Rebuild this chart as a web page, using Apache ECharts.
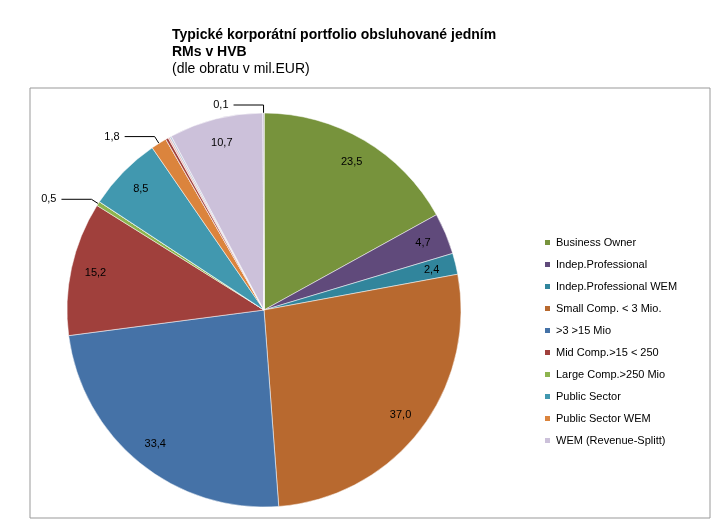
<!DOCTYPE html><html><head><meta charset="utf-8"><script src="https://cdn.jsdelivr.net/npm/echarts@6/dist/echarts.min.js"></script></head><body style="margin:0;background:#fff"><div id="c" style="width:726px;height:527px"></div><script>
const names=['Business Owner','Indep.Professional','Indep.Professional WEM','Small Comp. < 3 Mio.','>3 >15 Mio','Mid Comp.>15 < 250','Large Comp.>250 Mio','x1','Public Sector','Public Sector WEM','x2','x3','x4','x5','WEM (Revenue-Splitt)','x6','x7','x8'];
const values=[23.5,4.7,2.4,37.0,33.4,15.2,0.5,0.0,8.5,1.8,0.0,0.3,0.2,0.2,10.7,0.0,0.1,0.0];
const colors=['#77933C','#604A7B','#31859C','#B8692F','#4572A7','#A0403C','#8DB44F','#8DB44F','#4198AF','#DB843D','#A0403C','#A0403C','#E6B9B8','#B9C6D9','#CCC1DA','#4572A7','#604A7B','#31859C'];
const legendNames=names.slice(0,10).filter(n=>!n.startsWith('x')).concat(['WEM (Revenue-Splitt)']);
const fmt=v=>v.toFixed(1).replace('.',',');
const big=v=>v>=2;
const R=197,C=[264,310];
const chart=echarts.init(document.getElementById('c'));
chart.setOption({
 animation:false,
 graphic:[{type:'rect',shape:{x:30,y:88,width:680,height:430},style:{fill:'none',stroke:'#999',lineWidth:1}},
  {type:'text',left:172,top:27,style:{text:'Typické korporátní portfolio obsluhované jedním\nRMs v HVB',font:'bold 14px "Liberation Sans"',fill:'#000',lineHeight:17}},
  {type:'text',left:172,top:62,style:{text:'(dle obratu v mil.EUR)',font:'14px "Liberation Sans"',fill:'#000'}}],
 legend:{orient:'vertical',left:538,top:232,itemWidth:7,itemHeight:7,itemGap:11,icon:'rect',data:legendNames,textStyle:{fontSize:11,fontFamily:'Liberation Sans',color:'#000'}},
 series:[{type:'pie',center:C,radius:R,startAngle:90,clockwise:true,
   minAngle:0,avoidLabelOverlap:false,
   data:values.map((v,i)=>({name:names[i],value:v,itemStyle:{color:colors[i],borderColor:'#fff',borderWidth:0.5},
     label:{show:!big(v)},labelLine:{show:!big(v)}})),
   label:{formatter:p=>fmt(p.value),fontSize:11,fontFamily:'Liberation Sans',color:'#000'},
   labelLine:{length:8,length2:30,lineStyle:{color:'#000'}}},
  {type:'pie',center:C,radius:[R*0.72,R],startAngle:90,clockwise:true,silent:true,legendHoverLink:false,
   data:values.map((v,i)=>({name:'o'+i,value:v,itemStyle:{color:'rgba(0,0,0,0)'},label:{show:big(v)}})),
   label:{position:'inside',formatter:p=>fmt(p.value),fontSize:11,fontFamily:'Liberation Sans',color:'#000'}}]
});
</script></body></html>
